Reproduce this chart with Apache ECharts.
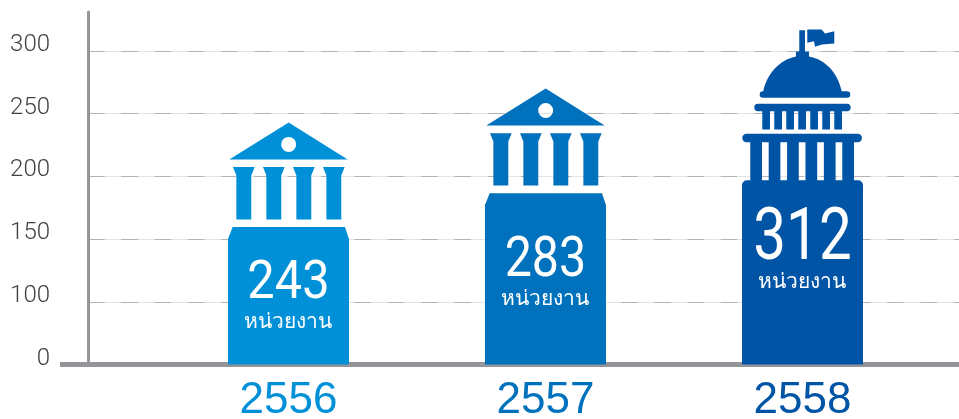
<!DOCTYPE html>
<html>
<head>
<meta charset="utf-8">
<style>
    html, body { margin: 0; padding: 0; background: #fff; }
    #chart { width: 959px; height: 419px; }
</style>
<script src="https://cdn.jsdelivr.net/npm/echarts@6/dist/echarts.min.js"></script>
</head>
<body>
<div id="chart"></div>
<script>
const years = [2556, 2557, 2558];
const unitCounts = [243, 283, 312];
// building tops as read against the y axis (not the same as the printed counts)
const buildingTops = [243, 270, 317];
const yTicks = [50, 100, 150, 200, 250, 300];
const yTickLabels = ["0", "100", "150", "200", "250", "300"];
const unitLabel = "หน่วยงาน";
const colors = ["#0090d7", "#0071bc", "#0054a6"];

const BAR_W = 121;

const rect = (x, y, w, h) => `M${x} ${y}L${x + w} ${y}L${x + w} ${y + h}L${x} ${y + h}Z`;
const pill = (x, y, w, h) => {
    const r = h / 2;
    return `M${x + r} ${y}L${x + w - r} ${y}A${r} ${r} 0 0 1 ${x + w - r} ${y + h}L${x + r} ${y + h}A${r} ${r} 0 0 1 ${x + r} ${y}Z`;
};

// small temple: pediment with round window, four columns, chamfered body
const templePath = (h) => {
    let d = "M60.7 0L119.7 37L1.3 37Z";
    d += "M60.7 14.5A7.5 7.5 0 0 0 60.7 29.5A7.5 7.5 0 0 0 60.7 14.5Z";
    for (let i = 0; i < 4; i++) {
        const x = 5 + i * 30;
        d += `M${x} 44.7L${x + 21.7} 44.7L${x + 18.3} 53L${x + 18.3} 97L${x + 3.4} 97L${x + 3.4} 53Z`;
    }
    d += `M4.7 104.7L117 104.7L121 116.5L121 ${h}L0 ${h}L0 116.5Z`;
    return d;
};

// capitol: flag, dome, two rows of columns, body with rounded shoulders
const capitolPath = (h) => {
    let d = "M57.3 0.7L63 0.7L63 22L67 22L67 27C84 30 96 44 99.7 61.7L105 61.7A3.3 3.3 0 0 1 105 68.3L21 68.3A3.3 3.3 0 0 1 21 61.7L21.3 61.7C25 44 38 30 54 27L54 22L57.3 22Z";
    d += "M65.3 0L79.7 0L83 4L92.3 1.7L92.3 14L80 15L73 17.3L72 11.7L65.3 13.3Z";
    d += pill(12.3, 74.3, 96.4, 7.4);
    for (let i = 0; i < 7; i++) {
        d += rect(20.3 + i * 12, 81.7, 7.7, 18.3);
    }
    d += pill(0.3, 104.3, 119.7, 8.4);
    for (let i = 0; i < 6; i++) {
        d += rect(8.3 + i * 18.4, 112.7, 11.7, 38);
    }
    d += `M5 150.7L116 150.7A5 5 0 0 1 121 155.7L121 ${h}L0 ${h}L0 155.7A5 5 0 0 1 5 150.7Z`;
    return d;
};

const shapes = [templePath, templePath, capitolPath];
// text placement measured from the building top
const countY = [162, 173.5, 211];
const countSize = [53, 55, 73];
const countScaleX = [0.92, 0.88, 0.8];
const unitY = [200, 210, 252];

const renderBuilding = (params, api) => {
    const i = params.dataIndex;
    const [cx, top] = api.coord([api.value(0), api.value(1)]);
    const bottom = api.coord([api.value(0), yTicks[0]])[1];
    const h = bottom - top;
    const left = cx - BAR_W / 2;
    return {
        type: "group",
        children: [
            {
                type: "path",
                shape: { pathData: shapes[i](h), x: left, y: top, width: BAR_W, height: h, layout: "cover" },
                style: { fill: colors[i] },
            },
            {
                type: "text",
                x: cx,
                y: top + countY[i],
                scaleX: countScaleX[i],
                style: { text: String(unitCounts[i]), fill: "#fff", fontSize: countSize[i], fontFamily: "Roboto, sans-serif", align: "center", verticalAlign: "middle" },
            },
            {
                type: "text",
                x: cx,
                y: top + unitY[i],
                style: { text: unitLabel, fill: "#fff", fontSize: 21, fontFamily: "'Noto Sans', sans-serif", align: "center", verticalAlign: "middle" },
            },
        ],
    };
};

const chart = echarts.init(document.getElementById("chart"));
chart.setOption({
    animation: false,
    grid: { left: 88, right: 0, top: 12, bottom: 54.5, outerBoundsMode: "none" },
    xAxis: {
        type: "value",
        min: 2555.22,
        max: 2558.609,
        splitLine: { show: false },
        axisTick: { show: false, customValues: years },
        axisLine: { onZero: false, lineStyle: { color: "#939598", width: 5 } },
        axisLabel: {
            customValues: years,
            margin: 14,
            fontSize: 44,
            fontFamily: "'Liberation Sans', sans-serif",
            formatter: (value) => `{y${years.indexOf(value)}|${value}}`,
            rich: {
                y0: { color: colors[0], fontSize: 44 },
                y1: { color: colors[1], fontSize: 44 },
                y2: { color: colors[2], fontSize: 44 },
            },
        },
    },
    yAxis: [
        {
            type: "value",
            min: 50,
            max: 331,
            axisLine: { show: true, onZero: false, lineStyle: { color: "#939598", width: 3 } },
            axisTick: { show: false, customValues: yTicks },
            splitLine: { show: true, lineStyle: { color: "#e4e4e4", width: 1 } },
            axisLabel: {
                customValues: yTicks,
                margin: 38,
                fontSize: 24,
                color: "#414042",
                fontWeight: 300,
                fontFamily: "Roboto, sans-serif",
                verticalAlign: "bottom",
                lineHeight: 12,
                formatter: (value) => yTickLabels[yTicks.indexOf(value)],
            },
        },
        {
            type: "value",
            min: 50,
            max: 331,
            position: "left",
            axisLine: { show: false },
            axisTick: { show: false, customValues: yTicks },
            axisLabel: { show: false, customValues: yTicks },
            splitLine: { show: true, lineStyle: { color: "#b4b4b4", width: 1, type: [16.7, 16.6] } },
        },
    ],
    graphic: [
        { type: "rect", shape: { x: 60, y: 362, width: 30, height: 5 }, style: { fill: "#939598" } },
    ],
    series: [
        {
            type: "custom",
            renderItem: renderBuilding,
            encode: { x: 0, y: 1 },
            data: years.map((year, i) => [year, buildingTops[i]]),
        },
    ],
});
</script>
</body>
</html>
